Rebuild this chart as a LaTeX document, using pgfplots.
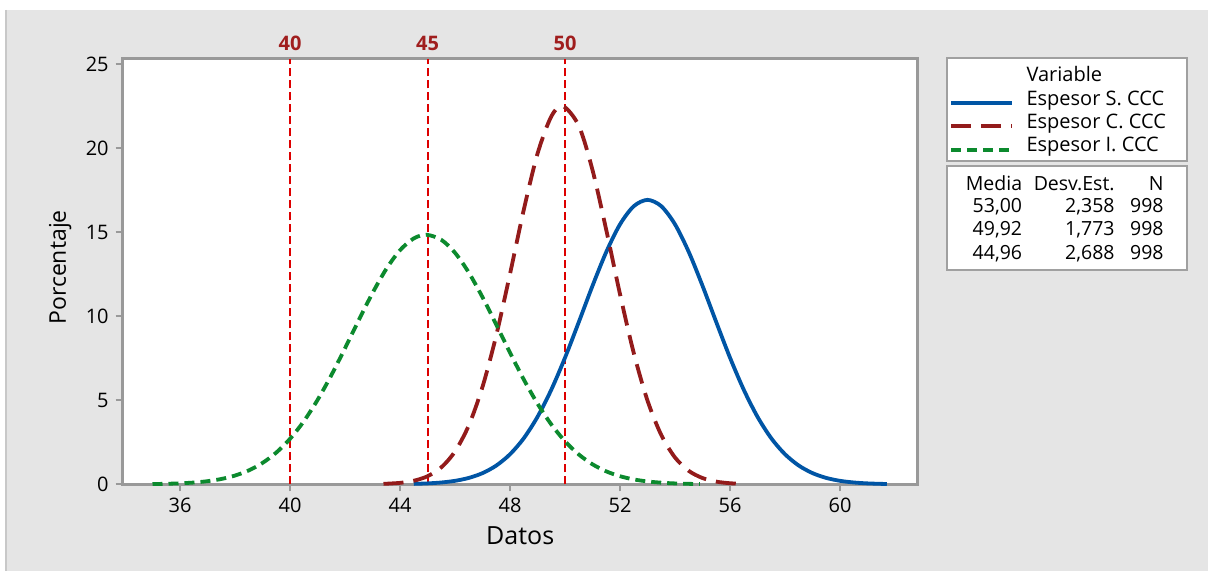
\documentclass[border=0pt]{standalone}
\usepackage{fontspec}
\setmainfont{Open Sans}
\usepackage{pgfplots}
\pgfplotsset{compat=1.18}
\definecolor{bgc}{HTML}{E5E5E5}
\definecolor{bordc}{HTML}{C8C8C8}
\definecolor{framec}{HTML}{999999}
\definecolor{boxc}{HTML}{A0A0A0}
\definecolor{cblue}{HTML}{0055A5}
\definecolor{cred}{HTML}{931B1B}
\definecolor{cgreen}{HTML}{0C8A2E}
\definecolor{refred}{HTML}{DD0000}
\definecolor{reflab}{HTML}{A01E1E}
\begin{document}
\begin{tikzpicture}
\begin{scope}[x=0.5pt,y=-0.5pt,shift={(0pt,285.5pt)}]
\fill[white] (0,0) rectangle (1208,571);
\fill[bgc] (5,10) rectangle (1208,571);
\draw[bordc, line width=1pt] (6,10) -- (6,571);
\draw[boxc, line width=1pt, fill=white] (947,58.5) rectangle (1187,161);
\draw[boxc, line width=1pt, fill=white] (947,166.5) rectangle (1187,270);
\end{scope}
\begin{axis}[
  at={(61.35pt,43.35pt)}, anchor=south west,
  scale only axis, width=397.5pt, height=212.65pt,
  xmin=33.916, xmax=62.825, ymin=0, ymax=25.3,
  clip=false,
  axis background/.style={fill=white},
  axis line style={framec, line width=1.5pt},
  xtick={36,40,44,48,52,56,60},
  ytick={0,5,10,15,20,25},
  tick align=outside, xtick pos=left, ytick pos=left,
  major tick length=3.5pt,
  every tick/.style={framec, line width=1.2pt},
  /pgf/number format/assume math mode=true,
  ticklabel style={font=\fontsize{10}{12}\selectfont, text=black},
  xlabel={Datos}, ylabel={Porcentaje},
  xlabel style={at={(axis description cs:0.5,0)}, anchor=center, yshift=-25.5pt, font=\fontsize{12.5}{14}\selectfont},
  ylabel style={at={(axis description cs:-0.0787,0.51)}, anchor=center, font=\fontsize{11.5}{13}\selectfont},
  legend style={at={(axis description cs:1.0393,0.980)}, anchor=north west, draw=none, fill=none,
    inner sep=0pt, row sep=0pt, column sep=6.2pt, font=\fontsize{10}{12}\selectfont,
    nodes={inner sep=0pt, text height=6.9pt, text depth=4.8pt}, cells={anchor=west}},
  legend image code/.code={\draw[#1] (0pt,0pt) -- (30.5pt,0pt);},
]
\addlegendimage{empty legend}
\addlegendentry{Variable}
% reference lines
\addplot[refred, line width=1pt, dash pattern=on 4pt off 2pt, forget plot] coordinates {(40,0) (40,25.3)};
\addplot[refred, line width=1pt, dash pattern=on 4pt off 2pt, forget plot] coordinates {(45,0) (45,25.3)};
\addplot[refred, line width=1pt, dash pattern=on 4pt off 2pt, forget plot] coordinates {(50,0) (50,25.3)};
\node[font=\bfseries\fontsize{10}{12}\selectfont, text=reflab] at (axis cs:40,25.3) [yshift=8pt] {40};
\node[font=\bfseries\fontsize{10}{12}\selectfont, text=reflab] at (axis cs:45,25.3) [yshift=8pt] {45};
\node[font=\bfseries\fontsize{10}{12}\selectfont, text=reflab] at (axis cs:50,25.3) [yshift=8pt] {50};
% Espesor S. CCC
\addplot[cblue, line width=1.9pt, smooth] coordinates {
(44.5,0.0255) (45,0.0536) (45.5,0.1075) (46,0.2064) (46.5,0.3788) (47,0.6646) (47.5,1.1145) (48,1.7865)
(48.5,2.738) (49,4.013) (49.5,5.623) (50,7.531) (50.5,9.645) (51,11.808) (51.5,13.820) (52,15.464)
(52.5,16.543) (53,16.919) (53.5,16.543) (54,15.464) (54.5,13.820) (55,11.808) (55.5,9.645) (56,7.531)
(56.5,5.623) (57,4.013) (57.5,2.738) (58,1.787) (58.5,1.115) (59,0.665) (59.5,0.379) (60,0.206)
(60.5,0.108) (61,0.054) (61.5,0.026) (61.7,0.019)};
\addlegendentry{Espesor S. CCC}
% Espesor C. CCC
\addplot[cred, line width=1.9pt, smooth, dash pattern=on 10pt off 5pt] coordinates {
(43.4,0.0261) (44,0.0853) (44.5,0.2103) (45,0.4787) (45.5,1.0064) (46,1.953) (46.5,3.501) (47,5.797)
(47.5,8.864) (48,12.518) (48.5,16.327) (49,19.667) (49.5,21.878) (49.92,22.501) (50.5,21.329)
(51,18.691) (51.5,15.127) (52,11.307) (52.5,7.805) (53,4.976) (53.5,2.930) (54,1.594) (54.5,0.800)
(55,0.371) (55.5,0.159) (56,0.0629) (56.5,0.0230)};
\addlegendentry{Espesor C. CCC}
% Espesor I. CCC
\addplot[cgreen, line width=1.9pt, smooth, dash pattern=on 5pt off 3pt] coordinates {
(35,0.0155) (35.5,0.0303) (36,0.0574) (36.5,0.1048) (37,0.1851) (37.5,0.3155) (38,0.5197) (38.5,0.8266)
(39,1.2705) (39.5,1.8857) (40,2.705) (40.5,3.747) (41,5.014) (41.5,6.482) (42,8.094) (42.5,9.764)
(43,11.377) (43.5,12.807) (44,13.925) (44.5,14.626) (44.96,14.842) (45.5,14.545) (46,13.772)
(46.5,12.596) (47,11.128) (47.5,9.497) (48,7.829) (48.5,6.236) (49,4.797) (49.5,3.565) (50,2.559)
(50.5,1.775) (51,1.189) (51.5,0.769) (52,0.481) (52.5,0.290) (53,0.1693) (53.5,0.0954) (54,0.0519)
(54.5,0.0273) (54.9,0.0159)};
\addlegendentry{Espesor I. CCC}
\end{axis}
\begin{scope}[x=0.5pt,y=-0.5pt,shift={(0pt,285.5pt)}]
\begin{scope}[every node/.style={font=\fontsize{9.75}{11}\selectfont, inner sep=0pt, anchor=base east}]
\node at (1022.5,190.5) {Media};
\node at (1115,190.5) {Desv.Est.};
\node at (1164,190.5) {N};
\node at (1022.5,213) {53,00};
\node at (1115,213) {2,358};
\node at (1164,213) {998};
\node at (1022.5,236) {49,92};
\node at (1115,236) {1,773};
\node at (1164,236) {998};
\node at (1022.5,259.5) {44,96};
\node at (1115,259.5) {2,688};
\node at (1164,259.5) {998};
\end{scope}
\end{scope}
\end{tikzpicture}
\end{document}
